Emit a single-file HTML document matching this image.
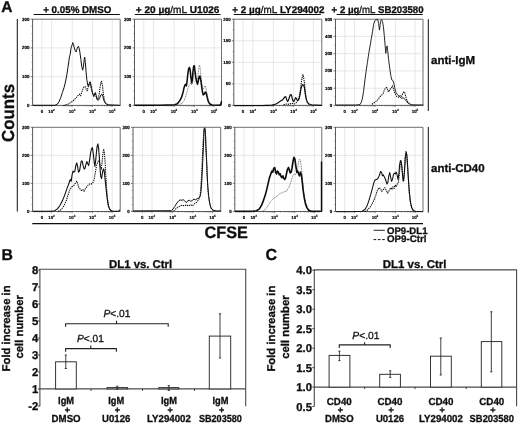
<!DOCTYPE html>
<html><head><meta charset="utf-8"><title>Figure</title>
<style>html,body{margin:0;padding:0;background:#fff;}body{width:520px;height:424px;overflow:hidden;font-family:"Liberation Sans",sans-serif;}svg{display:block;}text{text-rendering:geometricPrecision;}text[font-weight="bold"]:not([font-size="4.4"]){stroke:#111;stroke-width:0.32px;}</style>
</head><body>
<svg width="520" height="424" viewBox="0 0 520 424" font-family="'Liberation Sans', sans-serif">
<defs><filter id="soft" x="0" y="0" width="520" height="424" filterUnits="userSpaceOnUse"><feGaussianBlur stdDeviation="0.33"/></filter></defs>
<rect width="520" height="424" fill="#fff"/>
<g filter="url(#soft)">
<text x="1.2" y="12.4" font-size="15.5" font-weight="bold" fill="#111">A</text>
<text x="1.4" y="260.2" font-size="15.8" font-weight="bold" fill="#111">B</text>
<text x="265.4" y="260.2" font-size="16" font-weight="bold" fill="#111">C</text>
<text x="43.2" y="12.9" font-size="9.8" font-weight="bold" fill="#111" textLength="68.2" lengthAdjust="spacingAndGlyphs">+ 0.05% DMSO</text>
<line x1="33.7" y1="14.5" x2="119.8" y2="14.5" stroke="#111" stroke-width="1.2"/>
<text x="135.8" y="12.9" font-size="9.8" font-weight="bold" fill="#111" textLength="83.6" lengthAdjust="spacingAndGlyphs">+ 20 µg<tspan font-weight='normal'>/mL</tspan> U1026</text>
<line x1="134.8" y1="14.5" x2="220.6" y2="14.5" stroke="#111" stroke-width="1.2"/>
<text x="232.3" y="12.9" font-size="9.8" font-weight="bold" fill="#111" textLength="92.3" lengthAdjust="spacingAndGlyphs">+ 2 µg<tspan font-weight='normal'>/mL</tspan> LY294002</text>
<line x1="233.7" y1="14.5" x2="320.9" y2="14.5" stroke="#111" stroke-width="1.2"/>
<text x="331.6" y="12.9" font-size="9.8" font-weight="bold" fill="#111" textLength="92.0" lengthAdjust="spacingAndGlyphs">+ 2 µg<tspan font-weight='normal'>/mL</tspan> SB203580</text>
<line x1="336.6" y1="14.5" x2="422.8" y2="14.5" stroke="#111" stroke-width="1.2"/>
<line x1="17.3" y1="19.0" x2="17.3" y2="211.5" stroke="#111" stroke-width="1.0"/>
<text transform="translate(13.9,141.9) rotate(-90)" font-size="17.4" font-weight="bold" fill="#111" textLength="58" lengthAdjust="spacingAndGlyphs">Counts</text>
<line x1="428.3" y1="19.2" x2="428.3" y2="111" stroke="#111" stroke-width="1.0"/>
<line x1="428.3" y1="127" x2="428.3" y2="212.6" stroke="#111" stroke-width="1.0"/>
<text x="431" y="64.3" font-size="11.5" font-weight="bold" fill="#111" textLength="44.2" lengthAdjust="spacingAndGlyphs">anti-IgM</text>
<text x="431" y="172.3" font-size="11.4" font-weight="bold" fill="#111" textLength="53.6" lengthAdjust="spacingAndGlyphs">anti-CD40</text>
<line x1="32.3" y1="223.6" x2="423" y2="223.6" stroke="#111" stroke-width="1.3"/>
<text x="204.6" y="238" font-size="16.6" font-weight="bold" fill="#111" textLength="43.3" lengthAdjust="spacingAndGlyphs">CFSE</text>
<line x1="373.6" y1="230.3" x2="384.8" y2="230.3" stroke="#111" stroke-width="0.9"/>
<line x1="373.6" y1="239.6" x2="384.8" y2="239.6" stroke="#111" stroke-width="1.0" stroke-dasharray="2.6 1.7"/>
<text x="387" y="233.6" font-size="9.6" font-weight="bold" fill="#111" textLength="40.5" lengthAdjust="spacingAndGlyphs">OP9-DL1</text>
<text x="387" y="241.8" font-size="9.6" font-weight="bold" fill="#111" textLength="39.5" lengthAdjust="spacingAndGlyphs">OP9-Ctrl</text>
<g>
<line x1="41.9" y1="19.2" x2="41.9" y2="105.4" stroke="#d6d6d6" stroke-width="0.6"/>
<line x1="51.6" y1="19.2" x2="51.6" y2="105.4" stroke="#d6d6d6" stroke-width="0.6"/>
<line x1="72.2" y1="19.2" x2="72.2" y2="105.4" stroke="#d6d6d6" stroke-width="0.6"/>
<line x1="92.5" y1="19.2" x2="92.5" y2="105.4" stroke="#d6d6d6" stroke-width="0.6"/>
<line x1="112.2" y1="19.2" x2="112.2" y2="105.4" stroke="#d6d6d6" stroke-width="0.6"/>
<line x1="32.6" y1="47.9" x2="120.2" y2="47.9" stroke="#d6d6d6" stroke-width="0.6"/>
<line x1="32.6" y1="76.7" x2="120.2" y2="76.7" stroke="#d6d6d6" stroke-width="0.6"/>
<path d="M32.6,19.2 H120.2 V105.4" fill="none" stroke="#6e6e6e" stroke-width="1"/>
<path d="M32.6,18.9 V105.4 H120.2" fill="none" stroke="#5a5a5a" stroke-width="1"/>
<line x1="30.6" y1="19.2" x2="32.6" y2="19.2" stroke="#5a5a5a" stroke-width="0.8"/>
<text x="29.4" y="20.6" font-size="4.4" font-weight="bold" text-anchor="end" fill="#000" stroke="#000" stroke-width="0.18">300</text>
<line x1="30.6" y1="47.9" x2="32.6" y2="47.9" stroke="#5a5a5a" stroke-width="0.8"/>
<text x="29.4" y="49.3" font-size="4.4" font-weight="bold" text-anchor="end" fill="#000" stroke="#000" stroke-width="0.18">200</text>
<line x1="30.6" y1="76.7" x2="32.6" y2="76.7" stroke="#5a5a5a" stroke-width="0.8"/>
<text x="29.4" y="78.1" font-size="4.4" font-weight="bold" text-anchor="end" fill="#000" stroke="#000" stroke-width="0.18">100</text>
<line x1="30.6" y1="105.4" x2="32.6" y2="105.4" stroke="#5a5a5a" stroke-width="0.8"/>
<text x="29.4" y="106.8" font-size="4.4" font-weight="bold" text-anchor="end" fill="#000" stroke="#000" stroke-width="0.18">0</text>
<line x1="41.9" y1="105.4" x2="41.9" y2="107.0" stroke="#5a5a5a" stroke-width="0.7"/>
<text x="41.9" y="112.9" font-size="4.4" font-weight="bold" text-anchor="middle" fill="#000" stroke="#000" stroke-width="0.15">0</text>
<line x1="51.6" y1="105.4" x2="51.6" y2="107.0" stroke="#5a5a5a" stroke-width="0.7"/>
<text x="51.5" y="112.9" font-size="4.4" font-weight="bold" text-anchor="middle" fill="#000" stroke="#000" stroke-width="0.15">10<tspan font-size="3.0" dy="-1.7">2</tspan></text>
<line x1="72.2" y1="105.4" x2="72.2" y2="107.0" stroke="#5a5a5a" stroke-width="0.7"/>
<text x="72.1" y="112.9" font-size="4.4" font-weight="bold" text-anchor="middle" fill="#000" stroke="#000" stroke-width="0.15">10<tspan font-size="3.0" dy="-1.7">3</tspan></text>
<line x1="92.5" y1="105.4" x2="92.5" y2="107.0" stroke="#5a5a5a" stroke-width="0.7"/>
<text x="92.4" y="112.9" font-size="4.4" font-weight="bold" text-anchor="middle" fill="#000" stroke="#000" stroke-width="0.15">10<tspan font-size="3.0" dy="-1.7">4</tspan></text>
<line x1="112.2" y1="105.4" x2="112.2" y2="107.0" stroke="#5a5a5a" stroke-width="0.7"/>
<text x="112.1" y="112.9" font-size="4.4" font-weight="bold" text-anchor="middle" fill="#000" stroke="#000" stroke-width="0.15">10<tspan font-size="3.0" dy="-1.7">5</tspan></text>
<path d="M57.8,105.4v1.1M61.4,105.4v1.1M64.0,105.4v1.1M66.0,105.4v1.1M67.6,105.4v1.1M69.0,105.4v1.1M70.2,105.4v1.1M71.3,105.4v1.1M78.3,105.4v1.1M81.9,105.4v1.1M84.4,105.4v1.1M86.4,105.4v1.1M88.0,105.4v1.1M89.4,105.4v1.1M90.5,105.4v1.1M91.6,105.4v1.1M98.4,105.4v1.1M101.9,105.4v1.1M104.4,105.4v1.1M106.3,105.4v1.1M107.8,105.4v1.1M109.1,105.4v1.1M110.3,105.4v1.1M111.3,105.4v1.1M44.3,105.4v1.1M39.5,105.4v1.1M46.8,105.4v1.1M37.1,105.4v1.1M49.2,105.4v1.1M34.6,105.4v1.1" stroke="#555" stroke-width="0.5" fill="none"/>
<path d="M32.6,98.2h-1.2M32.6,91.0h-1.2M32.6,83.9h-1.2M32.6,69.5h-1.2M32.6,62.3h-1.2M32.6,55.1h-1.2M32.6,40.8h-1.2M32.6,33.6h-1.2M32.6,26.4h-1.2" stroke="#555" stroke-width="0.5" fill="none"/>
<clipPath id="c10"><rect x="32.6" y="18.2" width="88.4" height="88.2"/></clipPath>
<g clip-path="url(#c10)" fill="none" stroke-linejoin="round" stroke-linecap="round">
<path d="M63.3,105.7 L68.2,104.0 L71.5,102.0 L74.0,99.9 L76.5,97.4 L78.1,95.4 L79.3,94.1 L80.6,95.8 L81.4,93.3 L82.6,90.0 L83.5,87.5 L84.7,86.3 L85.7,87.5 L86.4,90.0 L87.2,90.8 L88.0,87.5 L88.8,85.0 L89.7,82.6 L90.5,85.0 L91.3,89.2 L92.6,93.3 L93.8,95.8 L94.9,93.3 L95.9,95.8 L97.1,99.1 L98.2,98.2 L99.2,94.1 L100.0,87.5 L100.9,82.6 L101.5,81.2 L102.4,85.0 L103.2,92.5 L104.2,99.1 L105.3,102.7 L107.8,104.8" stroke="#000" stroke-width="1.05" stroke-dasharray="1.3 0.9" stroke-linecap="butt"/>
<path d="M32.7,105.3 L55.0,105.3 L57.5,104.0 L59.1,101.5 L60.8,97.4 L62.4,92.5 L64.1,87.5 L65.7,80.9 L66.9,74.3 L67.9,67.7 L68.9,61.1 L69.5,56.2 L70.2,54.5 L70.8,49.6 L71.5,46.3 L72.3,44.6 L72.8,42.6 L73.5,44.6 L74.3,47.9 L75.1,50.4 L76.0,52.0 L76.8,49.6 L77.6,47.1 L78.4,46.3 L79.3,48.7 L80.1,53.7 L80.9,59.5 L81.7,66.1 L82.6,70.2 L83.4,66.9 L84.2,59.5 L84.7,57.0 L85.4,62.8 L86.0,71.0 L86.8,79.3 L87.7,85.0 L88.5,86.7 L89.3,83.4 L90.1,81.7 L90.8,84.2 L91.6,88.3 L92.6,93.3 L93.8,96.6 L94.6,94.1 L95.4,92.5 L96.3,95.8 L97.1,99.4 L98.2,100.4 L99.6,98.2 L100.9,94.9 L101.9,94.1 L102.9,96.6 L103.8,100.4 L105.3,103.2 L107.8,104.8 L120.0,105.3" stroke="#111" stroke-width="1.0"/>
</g>
</g>
<g>
<line x1="143.8" y1="19.2" x2="143.8" y2="105.4" stroke="#d6d6d6" stroke-width="0.6"/>
<line x1="153.5" y1="19.2" x2="153.5" y2="105.4" stroke="#d6d6d6" stroke-width="0.6"/>
<line x1="174.1" y1="19.2" x2="174.1" y2="105.4" stroke="#d6d6d6" stroke-width="0.6"/>
<line x1="194.4" y1="19.2" x2="194.4" y2="105.4" stroke="#d6d6d6" stroke-width="0.6"/>
<line x1="214.1" y1="19.2" x2="214.1" y2="105.4" stroke="#d6d6d6" stroke-width="0.6"/>
<line x1="134.5" y1="47.9" x2="221.5" y2="47.9" stroke="#d6d6d6" stroke-width="0.6"/>
<line x1="134.5" y1="76.7" x2="221.5" y2="76.7" stroke="#d6d6d6" stroke-width="0.6"/>
<path d="M134.5,19.2 H221.5 V105.4" fill="none" stroke="#6e6e6e" stroke-width="1"/>
<path d="M134.5,18.9 V105.4 H221.5" fill="none" stroke="#5a5a5a" stroke-width="1"/>
<line x1="132.5" y1="19.2" x2="134.5" y2="19.2" stroke="#5a5a5a" stroke-width="0.8"/>
<text x="131.3" y="20.6" font-size="4.4" font-weight="bold" text-anchor="end" fill="#000" stroke="#000" stroke-width="0.18">300</text>
<line x1="132.5" y1="47.9" x2="134.5" y2="47.9" stroke="#5a5a5a" stroke-width="0.8"/>
<text x="131.3" y="49.3" font-size="4.4" font-weight="bold" text-anchor="end" fill="#000" stroke="#000" stroke-width="0.18">200</text>
<line x1="132.5" y1="76.7" x2="134.5" y2="76.7" stroke="#5a5a5a" stroke-width="0.8"/>
<text x="131.3" y="78.1" font-size="4.4" font-weight="bold" text-anchor="end" fill="#000" stroke="#000" stroke-width="0.18">100</text>
<line x1="132.5" y1="105.4" x2="134.5" y2="105.4" stroke="#5a5a5a" stroke-width="0.8"/>
<text x="131.3" y="106.8" font-size="4.4" font-weight="bold" text-anchor="end" fill="#000" stroke="#000" stroke-width="0.18">0</text>
<line x1="143.8" y1="105.4" x2="143.8" y2="107.0" stroke="#5a5a5a" stroke-width="0.7"/>
<text x="143.8" y="112.9" font-size="4.4" font-weight="bold" text-anchor="middle" fill="#000" stroke="#000" stroke-width="0.15">0</text>
<line x1="153.5" y1="105.4" x2="153.5" y2="107.0" stroke="#5a5a5a" stroke-width="0.7"/>
<text x="153.4" y="112.9" font-size="4.4" font-weight="bold" text-anchor="middle" fill="#000" stroke="#000" stroke-width="0.15">10<tspan font-size="3.0" dy="-1.7">2</tspan></text>
<line x1="174.1" y1="105.4" x2="174.1" y2="107.0" stroke="#5a5a5a" stroke-width="0.7"/>
<text x="174.0" y="112.9" font-size="4.4" font-weight="bold" text-anchor="middle" fill="#000" stroke="#000" stroke-width="0.15">10<tspan font-size="3.0" dy="-1.7">3</tspan></text>
<line x1="194.4" y1="105.4" x2="194.4" y2="107.0" stroke="#5a5a5a" stroke-width="0.7"/>
<text x="194.3" y="112.9" font-size="4.4" font-weight="bold" text-anchor="middle" fill="#000" stroke="#000" stroke-width="0.15">10<tspan font-size="3.0" dy="-1.7">4</tspan></text>
<line x1="214.1" y1="105.4" x2="214.1" y2="107.0" stroke="#5a5a5a" stroke-width="0.7"/>
<text x="214.0" y="112.9" font-size="4.4" font-weight="bold" text-anchor="middle" fill="#000" stroke="#000" stroke-width="0.15">10<tspan font-size="3.0" dy="-1.7">5</tspan></text>
<path d="M159.7,105.4v1.1M163.3,105.4v1.1M165.9,105.4v1.1M167.9,105.4v1.1M169.5,105.4v1.1M170.9,105.4v1.1M172.1,105.4v1.1M173.2,105.4v1.1M180.2,105.4v1.1M183.8,105.4v1.1M186.3,105.4v1.1M188.3,105.4v1.1M189.9,105.4v1.1M191.3,105.4v1.1M192.4,105.4v1.1M193.5,105.4v1.1M200.3,105.4v1.1M203.8,105.4v1.1M206.3,105.4v1.1M208.2,105.4v1.1M209.7,105.4v1.1M211.0,105.4v1.1M212.2,105.4v1.1M213.2,105.4v1.1M146.2,105.4v1.1M141.4,105.4v1.1M148.7,105.4v1.1M139.0,105.4v1.1M151.1,105.4v1.1M136.5,105.4v1.1" stroke="#555" stroke-width="0.5" fill="none"/>
<path d="M134.5,98.2h-1.2M134.5,91.0h-1.2M134.5,83.9h-1.2M134.5,69.5h-1.2M134.5,62.3h-1.2M134.5,55.1h-1.2M134.5,40.8h-1.2M134.5,33.6h-1.2M134.5,26.4h-1.2" stroke="#555" stroke-width="0.5" fill="none"/>
<clipPath id="c11"><rect x="134.5" y="18.2" width="87.8" height="88.2"/></clipPath>
<g clip-path="url(#c11)" fill="none" stroke-linejoin="round" stroke-linecap="round">
<path d="M178.2,105.3 L182.3,103.2 L184.8,99.1 L186.4,94.1 L187.7,89.2 L188.9,85.9 L190.0,84.2 L190.9,82.6 L191.7,85.0 L192.5,83.4 L193.3,76.8 L194.2,70.2 L195.0,72.7 L196.0,79.3 L197.0,82.6 L197.8,77.6 L198.6,69.4 L199.3,65.2 L199.9,66.1 L200.6,72.7 L201.3,80.9 L202.2,87.5 L203.2,89.2 L204.2,86.7 L205.2,85.9 L206.2,89.2 L207.2,94.9 L208.2,99.9 L209.5,103.2 L212.0,104.8" stroke="#444" stroke-width="0.8" stroke-dasharray="0.9 0.8" stroke-linecap="butt"/>
<path d="M134.6,105.3 L160.0,105.3 L174.9,104.8 L177.3,103.7 L179.8,100.7 L181.5,97.4 L182.8,93.3 L183.9,88.3 L184.8,85.5 L185.6,84.2 L186.4,85.9 L186.9,82.6 L187.7,75.1 L188.5,69.4 L189.4,67.4 L190.2,70.2 L190.9,77.6 L191.7,82.6 L192.3,80.1 L193.0,71.0 L193.7,66.1 L194.3,65.7 L195.0,71.0 L195.8,77.6 L196.6,81.7 L197.5,84.2 L198.3,80.9 L199.1,76.8 L199.9,76.0 L200.8,80.1 L201.6,85.9 L202.4,91.6 L203.2,94.9 L204.2,94.1 L205.2,92.1 L206.2,93.3 L207.2,97.4 L208.3,101.5 L209.5,103.7 L212.0,105.0 L219.4,105.3 L220.7,104.3 L221.6,101.5" stroke="#111" stroke-width="1.55"/>
</g>
</g>
<g>
<line x1="243.1" y1="19.2" x2="243.1" y2="105.4" stroke="#d6d6d6" stroke-width="0.6"/>
<line x1="252.8" y1="19.2" x2="252.8" y2="105.4" stroke="#d6d6d6" stroke-width="0.6"/>
<line x1="273.4" y1="19.2" x2="273.4" y2="105.4" stroke="#d6d6d6" stroke-width="0.6"/>
<line x1="293.7" y1="19.2" x2="293.7" y2="105.4" stroke="#d6d6d6" stroke-width="0.6"/>
<line x1="313.4" y1="19.2" x2="313.4" y2="105.4" stroke="#d6d6d6" stroke-width="0.6"/>
<line x1="233.8" y1="40.8" x2="321.8" y2="40.8" stroke="#d6d6d6" stroke-width="0.6"/>
<line x1="233.8" y1="62.3" x2="321.8" y2="62.3" stroke="#d6d6d6" stroke-width="0.6"/>
<line x1="233.8" y1="83.9" x2="321.8" y2="83.9" stroke="#d6d6d6" stroke-width="0.6"/>
<path d="M233.8,19.2 H321.8 V105.4" fill="none" stroke="#6e6e6e" stroke-width="1"/>
<path d="M233.8,18.9 V105.4 H321.8" fill="none" stroke="#5a5a5a" stroke-width="1"/>
<line x1="231.8" y1="19.2" x2="233.8" y2="19.2" stroke="#5a5a5a" stroke-width="0.8"/>
<text x="230.6" y="20.6" font-size="4.4" font-weight="bold" text-anchor="end" fill="#000" stroke="#000" stroke-width="0.18">200</text>
<line x1="231.8" y1="40.8" x2="233.8" y2="40.8" stroke="#5a5a5a" stroke-width="0.8"/>
<text x="230.6" y="42.1" font-size="4.4" font-weight="bold" text-anchor="end" fill="#000" stroke="#000" stroke-width="0.18">150</text>
<line x1="231.8" y1="62.3" x2="233.8" y2="62.3" stroke="#5a5a5a" stroke-width="0.8"/>
<text x="230.6" y="63.7" font-size="4.4" font-weight="bold" text-anchor="end" fill="#000" stroke="#000" stroke-width="0.18">100</text>
<line x1="231.8" y1="83.9" x2="233.8" y2="83.9" stroke="#5a5a5a" stroke-width="0.8"/>
<text x="230.6" y="85.3" font-size="4.4" font-weight="bold" text-anchor="end" fill="#000" stroke="#000" stroke-width="0.18">50</text>
<line x1="231.8" y1="105.4" x2="233.8" y2="105.4" stroke="#5a5a5a" stroke-width="0.8"/>
<text x="230.6" y="106.8" font-size="4.4" font-weight="bold" text-anchor="end" fill="#000" stroke="#000" stroke-width="0.18">0</text>
<line x1="243.1" y1="105.4" x2="243.1" y2="107.0" stroke="#5a5a5a" stroke-width="0.7"/>
<text x="243.1" y="112.9" font-size="4.4" font-weight="bold" text-anchor="middle" fill="#000" stroke="#000" stroke-width="0.15">0</text>
<line x1="252.8" y1="105.4" x2="252.8" y2="107.0" stroke="#5a5a5a" stroke-width="0.7"/>
<text x="252.7" y="112.9" font-size="4.4" font-weight="bold" text-anchor="middle" fill="#000" stroke="#000" stroke-width="0.15">10<tspan font-size="3.0" dy="-1.7">2</tspan></text>
<line x1="273.4" y1="105.4" x2="273.4" y2="107.0" stroke="#5a5a5a" stroke-width="0.7"/>
<text x="273.3" y="112.9" font-size="4.4" font-weight="bold" text-anchor="middle" fill="#000" stroke="#000" stroke-width="0.15">10<tspan font-size="3.0" dy="-1.7">3</tspan></text>
<line x1="293.7" y1="105.4" x2="293.7" y2="107.0" stroke="#5a5a5a" stroke-width="0.7"/>
<text x="293.6" y="112.9" font-size="4.4" font-weight="bold" text-anchor="middle" fill="#000" stroke="#000" stroke-width="0.15">10<tspan font-size="3.0" dy="-1.7">4</tspan></text>
<line x1="313.4" y1="105.4" x2="313.4" y2="107.0" stroke="#5a5a5a" stroke-width="0.7"/>
<text x="313.3" y="112.9" font-size="4.4" font-weight="bold" text-anchor="middle" fill="#000" stroke="#000" stroke-width="0.15">10<tspan font-size="3.0" dy="-1.7">5</tspan></text>
<path d="M259.0,105.4v1.1M262.6,105.4v1.1M265.2,105.4v1.1M267.2,105.4v1.1M268.8,105.4v1.1M270.2,105.4v1.1M271.4,105.4v1.1M272.5,105.4v1.1M279.5,105.4v1.1M283.1,105.4v1.1M285.6,105.4v1.1M287.6,105.4v1.1M289.2,105.4v1.1M290.6,105.4v1.1M291.7,105.4v1.1M292.8,105.4v1.1M299.6,105.4v1.1M303.1,105.4v1.1M305.6,105.4v1.1M307.5,105.4v1.1M309.0,105.4v1.1M310.3,105.4v1.1M311.5,105.4v1.1M312.5,105.4v1.1M245.5,105.4v1.1M240.7,105.4v1.1M248.0,105.4v1.1M238.3,105.4v1.1M250.4,105.4v1.1M235.8,105.4v1.1" stroke="#555" stroke-width="0.5" fill="none"/>
<path d="M233.8,94.6h-1.2M233.8,73.1h-1.2M233.8,51.5h-1.2M233.8,30.0h-1.2" stroke="#555" stroke-width="0.5" fill="none"/>
<clipPath id="c12"><rect x="233.8" y="18.2" width="88.8" height="88.2"/></clipPath>
<g clip-path="url(#c12)" fill="none" stroke-linejoin="round" stroke-linecap="round">
<path d="M283.5,104.8 L286.8,104.0 L289.2,104.3 L291.7,103.2 L293.4,104.0 L295.0,103.7 L297.5,101.5 L299.1,97.4 L300.3,90.8 L301.3,82.6 L302.1,77.6 L302.9,74.6 L303.7,77.6 L304.6,84.2 L305.4,92.5 L306.2,99.1 L307.4,102.7 L309.0,104.3" stroke="#000" stroke-width="1.05" stroke-dasharray="1.3 0.9" stroke-linecap="butt"/>
<path d="M233.9,105.7 L262.0,105.7 L271.9,105.2 L276.0,104.0 L278.5,102.4 L281.0,100.7 L282.6,99.9 L283.9,98.2 L285.1,96.6 L285.9,97.1 L286.8,99.9 L287.6,101.5 L288.4,100.4 L289.6,96.6 L290.5,94.6 L291.4,94.9 L292.2,98.2 L293.0,101.0 L293.8,101.5 L294.7,99.9 L295.5,97.7 L296.3,98.2 L297.1,99.9 L298.0,100.4 L299.0,99.1 L300.0,94.9 L300.9,89.2 L301.8,85.9 L302.6,84.7 L303.6,85.0 L304.4,87.5 L305.2,93.3 L306.2,99.1 L307.4,102.4 L309.0,104.0 L311.5,104.8 L321.7,105.3" stroke="#111" stroke-width="1.2"/>
</g>
</g>
<g>
<line x1="344.8" y1="19.2" x2="344.8" y2="105.4" stroke="#d6d6d6" stroke-width="0.6"/>
<line x1="354.5" y1="19.2" x2="354.5" y2="105.4" stroke="#d6d6d6" stroke-width="0.6"/>
<line x1="375.1" y1="19.2" x2="375.1" y2="105.4" stroke="#d6d6d6" stroke-width="0.6"/>
<line x1="395.4" y1="19.2" x2="395.4" y2="105.4" stroke="#d6d6d6" stroke-width="0.6"/>
<line x1="415.1" y1="19.2" x2="415.1" y2="105.4" stroke="#d6d6d6" stroke-width="0.6"/>
<line x1="335.5" y1="36.4" x2="423.0" y2="36.4" stroke="#d6d6d6" stroke-width="0.6"/>
<line x1="335.5" y1="53.7" x2="423.0" y2="53.7" stroke="#d6d6d6" stroke-width="0.6"/>
<line x1="335.5" y1="70.9" x2="423.0" y2="70.9" stroke="#d6d6d6" stroke-width="0.6"/>
<line x1="335.5" y1="88.2" x2="423.0" y2="88.2" stroke="#d6d6d6" stroke-width="0.6"/>
<path d="M335.5,19.2 H423.0 V105.4" fill="none" stroke="#6e6e6e" stroke-width="1"/>
<path d="M335.5,18.9 V105.4 H423.0" fill="none" stroke="#5a5a5a" stroke-width="1"/>
<line x1="333.5" y1="19.2" x2="335.5" y2="19.2" stroke="#5a5a5a" stroke-width="0.8"/>
<text x="332.3" y="20.6" font-size="4.4" font-weight="bold" text-anchor="end" fill="#000" stroke="#000" stroke-width="0.18">500</text>
<line x1="333.5" y1="36.4" x2="335.5" y2="36.4" stroke="#5a5a5a" stroke-width="0.8"/>
<text x="332.3" y="37.8" font-size="4.4" font-weight="bold" text-anchor="end" fill="#000" stroke="#000" stroke-width="0.18">400</text>
<line x1="333.5" y1="53.7" x2="335.5" y2="53.7" stroke="#5a5a5a" stroke-width="0.8"/>
<text x="332.3" y="55.1" font-size="4.4" font-weight="bold" text-anchor="end" fill="#000" stroke="#000" stroke-width="0.18">300</text>
<line x1="333.5" y1="70.9" x2="335.5" y2="70.9" stroke="#5a5a5a" stroke-width="0.8"/>
<text x="332.3" y="72.3" font-size="4.4" font-weight="bold" text-anchor="end" fill="#000" stroke="#000" stroke-width="0.18">200</text>
<line x1="333.5" y1="88.2" x2="335.5" y2="88.2" stroke="#5a5a5a" stroke-width="0.8"/>
<text x="332.3" y="89.6" font-size="4.4" font-weight="bold" text-anchor="end" fill="#000" stroke="#000" stroke-width="0.18">100</text>
<line x1="333.5" y1="105.4" x2="335.5" y2="105.4" stroke="#5a5a5a" stroke-width="0.8"/>
<text x="332.3" y="106.8" font-size="4.4" font-weight="bold" text-anchor="end" fill="#000" stroke="#000" stroke-width="0.18">0</text>
<line x1="344.8" y1="105.4" x2="344.8" y2="107.0" stroke="#5a5a5a" stroke-width="0.7"/>
<text x="344.8" y="112.9" font-size="4.4" font-weight="bold" text-anchor="middle" fill="#000" stroke="#000" stroke-width="0.15">0</text>
<line x1="354.5" y1="105.4" x2="354.5" y2="107.0" stroke="#5a5a5a" stroke-width="0.7"/>
<text x="354.4" y="112.9" font-size="4.4" font-weight="bold" text-anchor="middle" fill="#000" stroke="#000" stroke-width="0.15">10<tspan font-size="3.0" dy="-1.7">2</tspan></text>
<line x1="375.1" y1="105.4" x2="375.1" y2="107.0" stroke="#5a5a5a" stroke-width="0.7"/>
<text x="375.0" y="112.9" font-size="4.4" font-weight="bold" text-anchor="middle" fill="#000" stroke="#000" stroke-width="0.15">10<tspan font-size="3.0" dy="-1.7">3</tspan></text>
<line x1="395.4" y1="105.4" x2="395.4" y2="107.0" stroke="#5a5a5a" stroke-width="0.7"/>
<text x="395.3" y="112.9" font-size="4.4" font-weight="bold" text-anchor="middle" fill="#000" stroke="#000" stroke-width="0.15">10<tspan font-size="3.0" dy="-1.7">4</tspan></text>
<line x1="415.1" y1="105.4" x2="415.1" y2="107.0" stroke="#5a5a5a" stroke-width="0.7"/>
<text x="415.0" y="112.9" font-size="4.4" font-weight="bold" text-anchor="middle" fill="#000" stroke="#000" stroke-width="0.15">10<tspan font-size="3.0" dy="-1.7">5</tspan></text>
<path d="M360.7,105.4v1.1M364.3,105.4v1.1M366.9,105.4v1.1M368.9,105.4v1.1M370.5,105.4v1.1M371.9,105.4v1.1M373.1,105.4v1.1M374.2,105.4v1.1M381.2,105.4v1.1M384.8,105.4v1.1M387.3,105.4v1.1M389.3,105.4v1.1M390.9,105.4v1.1M392.3,105.4v1.1M393.4,105.4v1.1M394.5,105.4v1.1M401.3,105.4v1.1M404.8,105.4v1.1M407.3,105.4v1.1M409.2,105.4v1.1M410.7,105.4v1.1M412.0,105.4v1.1M413.2,105.4v1.1M414.2,105.4v1.1M347.2,105.4v1.1M342.4,105.4v1.1M349.7,105.4v1.1M339.9,105.4v1.1M352.1,105.4v1.1M337.5,105.4v1.1" stroke="#555" stroke-width="0.5" fill="none"/>
<path d="M335.5,96.8h-1.2M335.5,79.5h-1.2M335.5,62.3h-1.2M335.5,45.1h-1.2M335.5,27.8h-1.2" stroke="#555" stroke-width="0.5" fill="none"/>
<clipPath id="c13"><rect x="335.5" y="18.2" width="88.3" height="88.2"/></clipPath>
<g clip-path="url(#c13)" fill="none" stroke-linejoin="round" stroke-linecap="round">
<path d="M371.9,104.2 L375.2,102.0 L377.8,99.8 L379.9,96.8 L381.7,95.1 L383.4,92.9 L384.5,89.6 L385.6,87.9 L386.9,87.5 L387.7,90.7 L388.8,91.8 L389.9,89.2 L391.2,88.6 L392.5,85.7 L393.4,88.6 L394.2,91.8 L395.5,94.4 L396.8,96.6 L398.6,97.2 L400.1,95.7 L401.6,96.6 L402.9,92.9 L404.0,91.8 L405.1,93.5 L405.9,97.2 L407.2,100.9 L409.4,103.5" stroke="#000" stroke-width="1.05" stroke-dasharray="1.3 0.9" stroke-linecap="butt"/>
<path d="M335.5,105.0 L355.7,105.0 L360.0,104.6 L361.1,102.6 L362.2,99.4 L363.5,91.8 L364.8,81.0 L366.1,71.2 L367.4,62.6 L368.7,53.9 L370.0,46.3 L371.3,38.7 L372.6,31.2 L373.6,24.7 L374.7,20.8 L376.0,19.7 L377.8,19.7 L378.6,23.6 L379.5,30.1 L380.1,24.7 L380.8,20.8 L381.7,19.7 L382.5,21.4 L383.4,26.8 L384.3,35.5 L385.1,45.2 L385.8,53.3 L386.4,48.5 L387.1,45.9 L387.7,50.7 L388.6,59.3 L389.7,68.0 L390.8,75.6 L391.8,79.9 L392.9,80.5 L393.8,83.1 L394.7,87.5 L395.7,91.8 L397.3,94.4 L399.0,96.1 L401.2,98.3 L403.3,97.9 L405.1,99.4 L406.6,101.6 L408.7,103.7 L412.0,104.8 L423.2,105.0" stroke="#111" stroke-width="0.9"/>
</g>
</g>
<g>
<line x1="41.9" y1="127.3" x2="41.9" y2="211.5" stroke="#d6d6d6" stroke-width="0.6"/>
<line x1="51.6" y1="127.3" x2="51.6" y2="211.5" stroke="#d6d6d6" stroke-width="0.6"/>
<line x1="72.2" y1="127.3" x2="72.2" y2="211.5" stroke="#d6d6d6" stroke-width="0.6"/>
<line x1="92.5" y1="127.3" x2="92.5" y2="211.5" stroke="#d6d6d6" stroke-width="0.6"/>
<line x1="112.2" y1="127.3" x2="112.2" y2="211.5" stroke="#d6d6d6" stroke-width="0.6"/>
<line x1="32.6" y1="155.4" x2="120.2" y2="155.4" stroke="#d6d6d6" stroke-width="0.6"/>
<line x1="32.6" y1="183.4" x2="120.2" y2="183.4" stroke="#d6d6d6" stroke-width="0.6"/>
<path d="M32.6,127.3 H120.2 V211.5" fill="none" stroke="#6e6e6e" stroke-width="1"/>
<path d="M32.6,127.0 V211.5 H120.2" fill="none" stroke="#5a5a5a" stroke-width="1"/>
<line x1="30.6" y1="127.3" x2="32.6" y2="127.3" stroke="#5a5a5a" stroke-width="0.8"/>
<text x="29.4" y="128.7" font-size="4.4" font-weight="bold" text-anchor="end" fill="#000" stroke="#000" stroke-width="0.18">300</text>
<line x1="30.6" y1="155.4" x2="32.6" y2="155.4" stroke="#5a5a5a" stroke-width="0.8"/>
<text x="29.4" y="156.8" font-size="4.4" font-weight="bold" text-anchor="end" fill="#000" stroke="#000" stroke-width="0.18">200</text>
<line x1="30.6" y1="183.4" x2="32.6" y2="183.4" stroke="#5a5a5a" stroke-width="0.8"/>
<text x="29.4" y="184.8" font-size="4.4" font-weight="bold" text-anchor="end" fill="#000" stroke="#000" stroke-width="0.18">100</text>
<line x1="30.6" y1="211.5" x2="32.6" y2="211.5" stroke="#5a5a5a" stroke-width="0.8"/>
<text x="29.4" y="212.9" font-size="4.4" font-weight="bold" text-anchor="end" fill="#000" stroke="#000" stroke-width="0.18">0</text>
<line x1="41.9" y1="211.5" x2="41.9" y2="213.1" stroke="#5a5a5a" stroke-width="0.7"/>
<text x="41.9" y="219.0" font-size="4.4" font-weight="bold" text-anchor="middle" fill="#000" stroke="#000" stroke-width="0.15">0</text>
<line x1="51.6" y1="211.5" x2="51.6" y2="213.1" stroke="#5a5a5a" stroke-width="0.7"/>
<text x="51.5" y="219.0" font-size="4.4" font-weight="bold" text-anchor="middle" fill="#000" stroke="#000" stroke-width="0.15">10<tspan font-size="3.0" dy="-1.7">2</tspan></text>
<line x1="72.2" y1="211.5" x2="72.2" y2="213.1" stroke="#5a5a5a" stroke-width="0.7"/>
<text x="72.1" y="219.0" font-size="4.4" font-weight="bold" text-anchor="middle" fill="#000" stroke="#000" stroke-width="0.15">10<tspan font-size="3.0" dy="-1.7">3</tspan></text>
<line x1="92.5" y1="211.5" x2="92.5" y2="213.1" stroke="#5a5a5a" stroke-width="0.7"/>
<text x="92.4" y="219.0" font-size="4.4" font-weight="bold" text-anchor="middle" fill="#000" stroke="#000" stroke-width="0.15">10<tspan font-size="3.0" dy="-1.7">4</tspan></text>
<line x1="112.2" y1="211.5" x2="112.2" y2="213.1" stroke="#5a5a5a" stroke-width="0.7"/>
<text x="112.1" y="219.0" font-size="4.4" font-weight="bold" text-anchor="middle" fill="#000" stroke="#000" stroke-width="0.15">10<tspan font-size="3.0" dy="-1.7">5</tspan></text>
<path d="M57.8,211.5v1.1M61.4,211.5v1.1M64.0,211.5v1.1M66.0,211.5v1.1M67.6,211.5v1.1M69.0,211.5v1.1M70.2,211.5v1.1M71.3,211.5v1.1M78.3,211.5v1.1M81.9,211.5v1.1M84.4,211.5v1.1M86.4,211.5v1.1M88.0,211.5v1.1M89.4,211.5v1.1M90.5,211.5v1.1M91.6,211.5v1.1M98.4,211.5v1.1M101.9,211.5v1.1M104.4,211.5v1.1M106.3,211.5v1.1M107.8,211.5v1.1M109.1,211.5v1.1M110.3,211.5v1.1M111.3,211.5v1.1M44.3,211.5v1.1M39.5,211.5v1.1M46.8,211.5v1.1M37.1,211.5v1.1M49.2,211.5v1.1M34.6,211.5v1.1" stroke="#555" stroke-width="0.5" fill="none"/>
<path d="M32.6,204.5h-1.2M32.6,197.5h-1.2M32.6,190.4h-1.2M32.6,176.4h-1.2M32.6,169.4h-1.2M32.6,162.4h-1.2M32.6,148.3h-1.2M32.6,141.3h-1.2M32.6,134.3h-1.2" stroke="#555" stroke-width="0.5" fill="none"/>
<clipPath id="c20"><rect x="32.6" y="126.3" width="88.4" height="86.2"/></clipPath>
<g clip-path="url(#c20)" fill="none" stroke-linejoin="round" stroke-linecap="round">
<path d="M58.3,211.3 L61.0,209.8 L63.8,206.1 L66.2,200.6 L68.0,195.1 L69.9,189.6 L71.7,186.8 L73.6,185.9 L75.4,183.1 L76.7,181.3 L77.6,183.1 L78.5,186.8 L79.8,188.6 L81.3,190.5 L82.8,189.6 L84.1,191.4 L85.4,188.6 L86.8,186.8 L88.3,185.0 L89.6,184.0 L90.9,184.4 L92.4,183.1 L93.8,181.3 L94.9,174.8 L96.0,168.4 L97.1,163.8 L98.3,161.0 L99.4,161.9 L100.5,167.5 L101.4,169.3 L102.1,161.9 L102.9,153.7 L103.6,149.0 L104.3,151.8 L105.1,161.9 L105.8,174.8 L106.5,187.7 L107.5,198.8 L108.6,206.1 L109.9,209.8 L111.7,211.1" stroke="#000" stroke-width="1.05" stroke-dasharray="1.3 0.9" stroke-linecap="butt"/>
<path d="M32.7,211.3 L50.0,211.3 L54.6,210.7 L57.4,208.9 L60.1,205.2 L62.5,200.6 L64.7,195.1 L66.6,189.6 L68.0,185.9 L69.3,182.2 L70.3,179.4 L71.2,181.3 L72.1,174.8 L73.0,171.1 L73.9,172.1 L74.9,171.1 L75.8,165.6 L76.7,162.9 L77.6,166.5 L78.5,172.1 L79.5,171.1 L80.4,165.6 L81.3,161.0 L82.2,161.0 L83.1,165.6 L84.1,168.9 L85.0,168.4 L85.9,164.7 L86.8,161.6 L87.8,163.8 L88.7,165.6 L89.6,160.1 L90.5,153.7 L91.4,149.0 L92.4,147.6 L93.3,153.7 L94.2,161.9 L94.9,166.5 L95.7,160.1 L96.4,152.7 L97.1,146.3 L97.9,143.9 L98.6,148.1 L99.4,158.3 L100.1,169.3 L100.8,176.7 L101.6,178.5 L102.3,173.9 L103.0,170.2 L103.8,168.9 L104.5,173.0 L105.2,180.4 L106.2,189.6 L107.1,197.9 L108.2,205.2 L109.5,208.9 L111.1,210.7 L113.5,211.3 L118.5,211.3 L119.6,210.2" stroke="#111" stroke-width="1.1"/>
</g>
</g>
<g>
<line x1="142.3" y1="127.3" x2="142.3" y2="211.5" stroke="#d6d6d6" stroke-width="0.6"/>
<line x1="152.0" y1="127.3" x2="152.0" y2="211.5" stroke="#d6d6d6" stroke-width="0.6"/>
<line x1="172.6" y1="127.3" x2="172.6" y2="211.5" stroke="#d6d6d6" stroke-width="0.6"/>
<line x1="192.9" y1="127.3" x2="192.9" y2="211.5" stroke="#d6d6d6" stroke-width="0.6"/>
<line x1="212.6" y1="127.3" x2="212.6" y2="211.5" stroke="#d6d6d6" stroke-width="0.6"/>
<line x1="133.0" y1="155.4" x2="220.7" y2="155.4" stroke="#d6d6d6" stroke-width="0.6"/>
<line x1="133.0" y1="183.4" x2="220.7" y2="183.4" stroke="#d6d6d6" stroke-width="0.6"/>
<path d="M133.0,127.3 H220.7 V211.5" fill="none" stroke="#6e6e6e" stroke-width="1"/>
<path d="M133.0,127.0 V211.5 H220.7" fill="none" stroke="#5a5a5a" stroke-width="1"/>
<line x1="131.0" y1="127.3" x2="133.0" y2="127.3" stroke="#5a5a5a" stroke-width="0.8"/>
<text x="129.8" y="128.7" font-size="4.4" font-weight="bold" text-anchor="end" fill="#000" stroke="#000" stroke-width="0.18">300</text>
<line x1="131.0" y1="155.4" x2="133.0" y2="155.4" stroke="#5a5a5a" stroke-width="0.8"/>
<text x="129.8" y="156.8" font-size="4.4" font-weight="bold" text-anchor="end" fill="#000" stroke="#000" stroke-width="0.18">200</text>
<line x1="131.0" y1="183.4" x2="133.0" y2="183.4" stroke="#5a5a5a" stroke-width="0.8"/>
<text x="129.8" y="184.8" font-size="4.4" font-weight="bold" text-anchor="end" fill="#000" stroke="#000" stroke-width="0.18">100</text>
<line x1="131.0" y1="211.5" x2="133.0" y2="211.5" stroke="#5a5a5a" stroke-width="0.8"/>
<text x="129.8" y="212.9" font-size="4.4" font-weight="bold" text-anchor="end" fill="#000" stroke="#000" stroke-width="0.18">0</text>
<line x1="142.3" y1="211.5" x2="142.3" y2="213.1" stroke="#5a5a5a" stroke-width="0.7"/>
<text x="142.3" y="219.0" font-size="4.4" font-weight="bold" text-anchor="middle" fill="#000" stroke="#000" stroke-width="0.15">0</text>
<line x1="152.0" y1="211.5" x2="152.0" y2="213.1" stroke="#5a5a5a" stroke-width="0.7"/>
<text x="151.9" y="219.0" font-size="4.4" font-weight="bold" text-anchor="middle" fill="#000" stroke="#000" stroke-width="0.15">10<tspan font-size="3.0" dy="-1.7">2</tspan></text>
<line x1="172.6" y1="211.5" x2="172.6" y2="213.1" stroke="#5a5a5a" stroke-width="0.7"/>
<text x="172.5" y="219.0" font-size="4.4" font-weight="bold" text-anchor="middle" fill="#000" stroke="#000" stroke-width="0.15">10<tspan font-size="3.0" dy="-1.7">3</tspan></text>
<line x1="192.9" y1="211.5" x2="192.9" y2="213.1" stroke="#5a5a5a" stroke-width="0.7"/>
<text x="192.8" y="219.0" font-size="4.4" font-weight="bold" text-anchor="middle" fill="#000" stroke="#000" stroke-width="0.15">10<tspan font-size="3.0" dy="-1.7">4</tspan></text>
<line x1="212.6" y1="211.5" x2="212.6" y2="213.1" stroke="#5a5a5a" stroke-width="0.7"/>
<text x="212.5" y="219.0" font-size="4.4" font-weight="bold" text-anchor="middle" fill="#000" stroke="#000" stroke-width="0.15">10<tspan font-size="3.0" dy="-1.7">5</tspan></text>
<path d="M158.2,211.5v1.1M161.8,211.5v1.1M164.4,211.5v1.1M166.4,211.5v1.1M168.0,211.5v1.1M169.4,211.5v1.1M170.6,211.5v1.1M171.7,211.5v1.1M178.7,211.5v1.1M182.3,211.5v1.1M184.8,211.5v1.1M186.8,211.5v1.1M188.4,211.5v1.1M189.8,211.5v1.1M190.9,211.5v1.1M192.0,211.5v1.1M198.8,211.5v1.1M202.3,211.5v1.1M204.8,211.5v1.1M206.7,211.5v1.1M208.2,211.5v1.1M209.5,211.5v1.1M210.7,211.5v1.1M211.7,211.5v1.1M144.7,211.5v1.1M139.9,211.5v1.1M147.2,211.5v1.1M137.5,211.5v1.1M149.6,211.5v1.1M135.0,211.5v1.1" stroke="#555" stroke-width="0.5" fill="none"/>
<path d="M133.0,204.5h-1.2M133.0,197.5h-1.2M133.0,190.4h-1.2M133.0,176.4h-1.2M133.0,169.4h-1.2M133.0,162.4h-1.2M133.0,148.3h-1.2M133.0,141.3h-1.2M133.0,134.3h-1.2" stroke="#555" stroke-width="0.5" fill="none"/>
<clipPath id="c21"><rect x="133.0" y="126.3" width="88.5" height="86.2"/></clipPath>
<g clip-path="url(#c21)" fill="none" stroke-linejoin="round" stroke-linecap="round">
<path d="M173.6,210.9 L175.7,209.0 L177.9,207.3 L180.0,206.0 L182.1,205.2 L184.3,205.8 L186.4,204.8 L188.5,206.0 L190.6,204.8 L192.3,205.8 L194.0,204.3 L195.7,203.1 L197.4,201.6 L199.1,198.8 L200.2,195.2 L200.8,187.8 L201.5,177.1 L202.1,164.4 L202.7,149.5 L203.4,137.8 L203.8,130.4 L204.4,128.3 L205.1,130.0 L205.5,136.8 L205.9,147.4 L206.6,162.3 L207.2,176.7 L207.8,187.8 L208.7,197.3 L209.8,204.3 L211.0,208.2 L212.9,210.3" stroke="#000" stroke-width="1.05" stroke-dasharray="1.3 0.9" stroke-linecap="butt"/>
<path d="M133.0,210.9 L171.5,210.7 L173.0,209.0 L174.7,206.5 L176.8,203.1 L178.9,200.7 L180.0,199.9 L181.7,200.3 L183.2,199.7 L184.7,200.9 L186.4,202.6 L187.7,200.9 L189.4,200.1 L190.6,201.4 L192.3,200.5 L194.0,199.0 L195.3,199.9 L197.0,198.8 L198.7,198.2 L200.0,196.5 L200.8,193.1 L201.5,185.6 L202.1,175.0 L202.7,162.3 L203.4,147.4 L203.8,136.8 L204.2,129.3 L204.7,127.8 L205.1,128.7 L205.5,134.6 L205.9,145.3 L206.6,160.1 L207.2,175.0 L207.8,186.7 L208.7,196.3 L209.8,203.7 L211.0,208.0 L212.9,210.1 L216.1,210.9 L220.8,210.9" stroke="#111" stroke-width="1.0"/>
</g>
</g>
<g>
<line x1="244.1" y1="127.3" x2="244.1" y2="211.5" stroke="#d6d6d6" stroke-width="0.6"/>
<line x1="253.8" y1="127.3" x2="253.8" y2="211.5" stroke="#d6d6d6" stroke-width="0.6"/>
<line x1="274.4" y1="127.3" x2="274.4" y2="211.5" stroke="#d6d6d6" stroke-width="0.6"/>
<line x1="294.7" y1="127.3" x2="294.7" y2="211.5" stroke="#d6d6d6" stroke-width="0.6"/>
<line x1="314.4" y1="127.3" x2="314.4" y2="211.5" stroke="#d6d6d6" stroke-width="0.6"/>
<line x1="234.8" y1="155.4" x2="321.8" y2="155.4" stroke="#d6d6d6" stroke-width="0.6"/>
<line x1="234.8" y1="183.4" x2="321.8" y2="183.4" stroke="#d6d6d6" stroke-width="0.6"/>
<path d="M234.8,127.3 H321.8 V211.5" fill="none" stroke="#6e6e6e" stroke-width="1"/>
<path d="M234.8,127.0 V211.5 H321.8" fill="none" stroke="#5a5a5a" stroke-width="1"/>
<line x1="232.8" y1="127.3" x2="234.8" y2="127.3" stroke="#5a5a5a" stroke-width="0.8"/>
<text x="231.6" y="128.7" font-size="4.4" font-weight="bold" text-anchor="end" fill="#000" stroke="#000" stroke-width="0.18">300</text>
<line x1="232.8" y1="155.4" x2="234.8" y2="155.4" stroke="#5a5a5a" stroke-width="0.8"/>
<text x="231.6" y="156.8" font-size="4.4" font-weight="bold" text-anchor="end" fill="#000" stroke="#000" stroke-width="0.18">200</text>
<line x1="232.8" y1="183.4" x2="234.8" y2="183.4" stroke="#5a5a5a" stroke-width="0.8"/>
<text x="231.6" y="184.8" font-size="4.4" font-weight="bold" text-anchor="end" fill="#000" stroke="#000" stroke-width="0.18">100</text>
<line x1="232.8" y1="211.5" x2="234.8" y2="211.5" stroke="#5a5a5a" stroke-width="0.8"/>
<text x="231.6" y="212.9" font-size="4.4" font-weight="bold" text-anchor="end" fill="#000" stroke="#000" stroke-width="0.18">0</text>
<line x1="244.1" y1="211.5" x2="244.1" y2="213.1" stroke="#5a5a5a" stroke-width="0.7"/>
<text x="244.1" y="219.0" font-size="4.4" font-weight="bold" text-anchor="middle" fill="#000" stroke="#000" stroke-width="0.15">0</text>
<line x1="253.8" y1="211.5" x2="253.8" y2="213.1" stroke="#5a5a5a" stroke-width="0.7"/>
<text x="253.7" y="219.0" font-size="4.4" font-weight="bold" text-anchor="middle" fill="#000" stroke="#000" stroke-width="0.15">10<tspan font-size="3.0" dy="-1.7">2</tspan></text>
<line x1="274.4" y1="211.5" x2="274.4" y2="213.1" stroke="#5a5a5a" stroke-width="0.7"/>
<text x="274.3" y="219.0" font-size="4.4" font-weight="bold" text-anchor="middle" fill="#000" stroke="#000" stroke-width="0.15">10<tspan font-size="3.0" dy="-1.7">3</tspan></text>
<line x1="294.7" y1="211.5" x2="294.7" y2="213.1" stroke="#5a5a5a" stroke-width="0.7"/>
<text x="294.6" y="219.0" font-size="4.4" font-weight="bold" text-anchor="middle" fill="#000" stroke="#000" stroke-width="0.15">10<tspan font-size="3.0" dy="-1.7">4</tspan></text>
<line x1="314.4" y1="211.5" x2="314.4" y2="213.1" stroke="#5a5a5a" stroke-width="0.7"/>
<text x="314.3" y="219.0" font-size="4.4" font-weight="bold" text-anchor="middle" fill="#000" stroke="#000" stroke-width="0.15">10<tspan font-size="3.0" dy="-1.7">5</tspan></text>
<path d="M260.0,211.5v1.1M263.6,211.5v1.1M266.2,211.5v1.1M268.2,211.5v1.1M269.8,211.5v1.1M271.2,211.5v1.1M272.4,211.5v1.1M273.5,211.5v1.1M280.5,211.5v1.1M284.1,211.5v1.1M286.6,211.5v1.1M288.6,211.5v1.1M290.2,211.5v1.1M291.6,211.5v1.1M292.7,211.5v1.1M293.8,211.5v1.1M300.6,211.5v1.1M304.1,211.5v1.1M306.6,211.5v1.1M308.5,211.5v1.1M310.0,211.5v1.1M311.3,211.5v1.1M312.5,211.5v1.1M313.5,211.5v1.1M246.5,211.5v1.1M241.7,211.5v1.1M249.0,211.5v1.1M239.3,211.5v1.1M251.4,211.5v1.1M236.8,211.5v1.1" stroke="#555" stroke-width="0.5" fill="none"/>
<path d="M234.8,204.5h-1.2M234.8,197.5h-1.2M234.8,190.4h-1.2M234.8,176.4h-1.2M234.8,169.4h-1.2M234.8,162.4h-1.2M234.8,148.3h-1.2M234.8,141.3h-1.2M234.8,134.3h-1.2" stroke="#555" stroke-width="0.5" fill="none"/>
<clipPath id="c22"><rect x="234.8" y="126.3" width="87.8" height="86.2"/></clipPath>
<g clip-path="url(#c22)" fill="none" stroke-linejoin="round" stroke-linecap="round">
<path d="M262.1,211.3 L264.9,209.8 L267.7,206.1 L270.0,202.5 L272.3,199.7 L274.1,197.9 L275.9,196.9 L277.8,195.5 L279.6,194.2 L281.5,192.3 L282.9,193.2 L284.4,191.4 L285.9,191.8 L287.4,189.6 L288.8,187.7 L290.3,184.0 L291.6,179.4 L292.9,175.8 L294.0,173.9 L295.3,174.8 L296.6,173.0 L297.7,167.5 L298.6,161.9 L299.5,159.2 L300.4,160.1 L301.4,167.5 L302.1,176.7 L302.8,185.0 L303.7,193.2 L304.9,200.6 L306.1,205.8 L307.8,209.5 L310.0,210.9" stroke="#444" stroke-width="0.8" stroke-dasharray="0.9 0.8" stroke-linecap="butt"/>
<path d="M235.1,211.3 L252.0,211.3 L256.6,210.7 L259.4,208.9 L261.6,205.2 L263.4,200.6 L265.3,195.1 L266.7,189.6 L268.2,183.1 L269.5,177.6 L270.8,173.9 L271.9,171.1 L272.8,172.1 L273.7,168.4 L274.7,167.5 L275.6,172.1 L276.5,173.9 L277.4,171.1 L278.3,172.1 L279.3,174.8 L280.2,173.9 L281.1,176.7 L282.0,177.6 L282.9,175.8 L283.9,178.5 L284.8,179.4 L285.7,177.6 L286.6,173.0 L287.5,169.3 L288.5,167.5 L289.4,170.2 L290.3,173.0 L291.2,172.1 L292.1,167.5 L293.1,161.0 L294.0,157.3 L294.9,159.2 L295.8,165.6 L296.8,172.1 L297.7,171.1 L298.6,173.9 L299.5,175.8 L300.4,172.1 L301.4,174.8 L302.3,182.2 L303.2,190.5 L304.3,197.9 L305.4,203.4 L306.9,207.6 L308.7,210.2 L311.3,211.3 L320.1,211.3" stroke="#111" stroke-width="1.65"/>
<line x1="321.6" y1="162.0" x2="321.6" y2="211.5" stroke="#111" stroke-width="1.6"/>
</g>
</g>
<g>
<line x1="344.8" y1="127.3" x2="344.8" y2="211.5" stroke="#d6d6d6" stroke-width="0.6"/>
<line x1="354.5" y1="127.3" x2="354.5" y2="211.5" stroke="#d6d6d6" stroke-width="0.6"/>
<line x1="375.1" y1="127.3" x2="375.1" y2="211.5" stroke="#d6d6d6" stroke-width="0.6"/>
<line x1="395.4" y1="127.3" x2="395.4" y2="211.5" stroke="#d6d6d6" stroke-width="0.6"/>
<line x1="415.1" y1="127.3" x2="415.1" y2="211.5" stroke="#d6d6d6" stroke-width="0.6"/>
<line x1="335.5" y1="155.4" x2="423.0" y2="155.4" stroke="#d6d6d6" stroke-width="0.6"/>
<line x1="335.5" y1="183.4" x2="423.0" y2="183.4" stroke="#d6d6d6" stroke-width="0.6"/>
<path d="M335.5,127.3 H423.0 V211.5" fill="none" stroke="#6e6e6e" stroke-width="1"/>
<path d="M335.5,127.0 V211.5 H423.0" fill="none" stroke="#5a5a5a" stroke-width="1"/>
<line x1="333.5" y1="127.3" x2="335.5" y2="127.3" stroke="#5a5a5a" stroke-width="0.8"/>
<text x="332.3" y="128.7" font-size="4.4" font-weight="bold" text-anchor="end" fill="#000" stroke="#000" stroke-width="0.18">300</text>
<line x1="333.5" y1="155.4" x2="335.5" y2="155.4" stroke="#5a5a5a" stroke-width="0.8"/>
<text x="332.3" y="156.8" font-size="4.4" font-weight="bold" text-anchor="end" fill="#000" stroke="#000" stroke-width="0.18">200</text>
<line x1="333.5" y1="183.4" x2="335.5" y2="183.4" stroke="#5a5a5a" stroke-width="0.8"/>
<text x="332.3" y="184.8" font-size="4.4" font-weight="bold" text-anchor="end" fill="#000" stroke="#000" stroke-width="0.18">100</text>
<line x1="333.5" y1="211.5" x2="335.5" y2="211.5" stroke="#5a5a5a" stroke-width="0.8"/>
<text x="332.3" y="212.9" font-size="4.4" font-weight="bold" text-anchor="end" fill="#000" stroke="#000" stroke-width="0.18">0</text>
<line x1="344.8" y1="211.5" x2="344.8" y2="213.1" stroke="#5a5a5a" stroke-width="0.7"/>
<text x="344.8" y="219.0" font-size="4.4" font-weight="bold" text-anchor="middle" fill="#000" stroke="#000" stroke-width="0.15">0</text>
<line x1="354.5" y1="211.5" x2="354.5" y2="213.1" stroke="#5a5a5a" stroke-width="0.7"/>
<text x="354.4" y="219.0" font-size="4.4" font-weight="bold" text-anchor="middle" fill="#000" stroke="#000" stroke-width="0.15">10<tspan font-size="3.0" dy="-1.7">2</tspan></text>
<line x1="375.1" y1="211.5" x2="375.1" y2="213.1" stroke="#5a5a5a" stroke-width="0.7"/>
<text x="375.0" y="219.0" font-size="4.4" font-weight="bold" text-anchor="middle" fill="#000" stroke="#000" stroke-width="0.15">10<tspan font-size="3.0" dy="-1.7">3</tspan></text>
<line x1="395.4" y1="211.5" x2="395.4" y2="213.1" stroke="#5a5a5a" stroke-width="0.7"/>
<text x="395.3" y="219.0" font-size="4.4" font-weight="bold" text-anchor="middle" fill="#000" stroke="#000" stroke-width="0.15">10<tspan font-size="3.0" dy="-1.7">4</tspan></text>
<line x1="415.1" y1="211.5" x2="415.1" y2="213.1" stroke="#5a5a5a" stroke-width="0.7"/>
<text x="415.0" y="219.0" font-size="4.4" font-weight="bold" text-anchor="middle" fill="#000" stroke="#000" stroke-width="0.15">10<tspan font-size="3.0" dy="-1.7">5</tspan></text>
<path d="M360.7,211.5v1.1M364.3,211.5v1.1M366.9,211.5v1.1M368.9,211.5v1.1M370.5,211.5v1.1M371.9,211.5v1.1M373.1,211.5v1.1M374.2,211.5v1.1M381.2,211.5v1.1M384.8,211.5v1.1M387.3,211.5v1.1M389.3,211.5v1.1M390.9,211.5v1.1M392.3,211.5v1.1M393.4,211.5v1.1M394.5,211.5v1.1M401.3,211.5v1.1M404.8,211.5v1.1M407.3,211.5v1.1M409.2,211.5v1.1M410.7,211.5v1.1M412.0,211.5v1.1M413.2,211.5v1.1M414.2,211.5v1.1M347.2,211.5v1.1M342.4,211.5v1.1M349.7,211.5v1.1M339.9,211.5v1.1M352.1,211.5v1.1M337.5,211.5v1.1" stroke="#555" stroke-width="0.5" fill="none"/>
<path d="M335.5,204.5h-1.2M335.5,197.5h-1.2M335.5,190.4h-1.2M335.5,176.4h-1.2M335.5,169.4h-1.2M335.5,162.4h-1.2M335.5,148.3h-1.2M335.5,141.3h-1.2M335.5,134.3h-1.2" stroke="#555" stroke-width="0.5" fill="none"/>
<clipPath id="c23"><rect x="335.5" y="126.3" width="88.3" height="86.2"/></clipPath>
<g clip-path="url(#c23)" fill="none" stroke-linejoin="round" stroke-linecap="round">
<path d="M364.9,211.7 L367.7,209.8 L370.0,207.1 L372.3,203.4 L374.1,199.7 L375.9,195.1 L377.4,190.5 L378.9,187.7 L380.4,188.6 L381.8,191.4 L383.3,189.6 L384.8,187.7 L386.3,190.5 L387.7,193.2 L389.2,190.5 L390.7,187.7 L391.8,189.6 L392.9,186.8 L394.0,188.6 L395.1,185.0 L396.2,186.8 L397.3,184.0 L398.4,182.2 L399.3,174.8 L400.1,165.6 L400.8,161.6 L401.5,162.9 L402.3,171.1 L403.0,179.4 L403.7,181.3 L404.5,171.1 L405.2,158.3 L406.0,151.3 L406.7,153.7 L407.4,163.8 L408.2,177.6 L409.1,191.4 L410.2,201.5 L411.5,207.6 L413.1,210.4" stroke="#000" stroke-width="1.05" stroke-dasharray="1.3 0.9" stroke-linecap="butt"/>
<path d="M335.8,211.7 L352.0,211.7 L362.1,211.3 L364.9,209.5 L367.1,205.8 L368.9,200.6 L370.8,194.2 L372.3,188.6 L373.7,183.1 L375.0,180.0 L376.3,179.4 L377.4,178.9 L378.5,177.6 L379.6,174.8 L380.5,171.5 L381.5,172.1 L382.4,175.8 L383.3,174.8 L384.2,176.7 L385.1,178.5 L386.1,181.3 L387.0,184.0 L387.9,182.2 L388.8,175.8 L389.8,172.6 L390.7,177.6 L391.6,181.3 L392.5,179.4 L393.4,174.8 L394.4,173.0 L395.3,173.9 L396.2,172.1 L397.1,174.8 L398.0,179.4 L398.8,174.8 L399.5,165.6 L400.3,161.0 L401.0,160.5 L401.7,165.6 L402.5,174.8 L403.2,181.3 L403.9,177.6 L404.7,167.5 L405.4,156.4 L406.1,152.7 L406.9,155.5 L407.6,165.6 L408.4,178.5 L409.3,191.4 L410.4,201.5 L411.7,207.6 L413.3,210.4 L416.1,211.7 L422.9,211.7" stroke="#111" stroke-width="1.05"/>
</g>
</g>
<path d="M39.9,406.2 V269.3 H245.7 V406.2" fill="none" stroke="#4a4a4a" stroke-width="1.1"/>
<line x1="39.9" y1="388.9" x2="245.7" y2="388.9" stroke="#4a4a4a" stroke-width="1.1"/>
<line x1="91" y1="388.9" x2="91" y2="390.9" stroke="#2a2a2a" stroke-width="0.9"/>
<line x1="142.5" y1="388.9" x2="142.5" y2="390.9" stroke="#2a2a2a" stroke-width="0.9"/>
<line x1="194.5" y1="388.9" x2="194.5" y2="390.9" stroke="#2a2a2a" stroke-width="0.9"/>
<line x1="37.9" y1="270" x2="39.9" y2="270" stroke="#2a2a2a" stroke-width="0.9"/>
<text x="38.3" y="274.2" font-size="11.3" font-weight="bold" text-anchor="end" fill="#111">8</text>
<line x1="37.9" y1="287" x2="39.9" y2="287" stroke="#2a2a2a" stroke-width="0.9"/>
<text x="38.3" y="291.2" font-size="11.3" font-weight="bold" text-anchor="end" fill="#111">7</text>
<line x1="37.9" y1="304" x2="39.9" y2="304" stroke="#2a2a2a" stroke-width="0.9"/>
<text x="38.3" y="308.2" font-size="11.3" font-weight="bold" text-anchor="end" fill="#111">6</text>
<line x1="37.9" y1="321" x2="39.9" y2="321" stroke="#2a2a2a" stroke-width="0.9"/>
<text x="38.3" y="325.2" font-size="11.3" font-weight="bold" text-anchor="end" fill="#111">5</text>
<line x1="37.9" y1="338" x2="39.9" y2="338" stroke="#2a2a2a" stroke-width="0.9"/>
<text x="38.3" y="342.2" font-size="11.3" font-weight="bold" text-anchor="end" fill="#111">4</text>
<line x1="37.9" y1="355" x2="39.9" y2="355" stroke="#2a2a2a" stroke-width="0.9"/>
<text x="38.3" y="359.2" font-size="11.3" font-weight="bold" text-anchor="end" fill="#111">3</text>
<line x1="37.9" y1="372" x2="39.9" y2="372" stroke="#2a2a2a" stroke-width="0.9"/>
<text x="38.3" y="376.2" font-size="11.3" font-weight="bold" text-anchor="end" fill="#111">2</text>
<line x1="37.9" y1="389" x2="39.9" y2="389" stroke="#2a2a2a" stroke-width="0.9"/>
<text x="38.3" y="393.2" font-size="11.3" font-weight="bold" text-anchor="end" fill="#111">1</text>
<line x1="37.9" y1="406" x2="39.9" y2="406" stroke="#2a2a2a" stroke-width="0.9"/>
<text x="38.3" y="410.2" font-size="11.3" font-weight="bold" text-anchor="end" fill="#111">-2</text>
<rect x="55.6" y="361.8" width="20.70" height="27.10" fill="#fff" stroke="#2a2a2a" stroke-width="0.95"/>
<path d="M65.8,355 V368.5 M64.7,355 h2.2 M64.7,368.5 h2.2" fill="none" stroke="#2a2a2a" stroke-width="0.9"/>
<rect x="107.0" y="387.6" width="20.60" height="1.30" fill="#fff" stroke="#2a2a2a" stroke-width="0.95"/>
<path d="M117.2,386.2 V389.0 M116.10000000000001,386.2 h2.2 M116.10000000000001,389.0 h2.2" fill="none" stroke="#2a2a2a" stroke-width="0.9"/>
<rect x="158.8" y="387.6" width="20.00" height="1.30" fill="#fff" stroke="#2a2a2a" stroke-width="0.95"/>
<path d="M168.8,385.6 V390.4 M167.70000000000002,385.6 h2.2 M167.70000000000002,390.4 h2.2" fill="none" stroke="#2a2a2a" stroke-width="0.9"/>
<rect x="209.3" y="336.1" width="21.40" height="52.80" fill="#fff" stroke="#2a2a2a" stroke-width="0.95"/>
<path d="M220.0,313.8 V358.0 M218.9,313.8 h2.2 M218.9,358.0 h2.2" fill="none" stroke="#2a2a2a" stroke-width="0.9"/>
<text x="109.0" y="267.7" font-size="11.3" font-weight="bold" fill="#111" textLength="63.2" lengthAdjust="spacingAndGlyphs">DL1 vs. Ctrl</text>
<text transform="translate(9.7,328.4) rotate(-90)" font-size="11.3" font-weight="bold" text-anchor="middle" fill="#111">Fold increase in</text>
<text transform="translate(22.9,326.79999999999995) rotate(-90)" font-size="11.3" font-weight="bold" text-anchor="middle" fill="#111">cell number</text>
<text x="58.1" y="404.2" font-size="10.2" font-weight="bold" fill="#111" textLength="16.0" lengthAdjust="spacingAndGlyphs">IgM</text>
<text x="67.3" y="413.0" font-size="9" font-weight="bold" text-anchor="middle" fill="#111">+</text>
<text x="51.6" y="421.7" font-size="10.2" font-weight="bold" fill="#111" textLength="29.0" lengthAdjust="spacingAndGlyphs">DMSO</text>
<text x="108.2" y="404.2" font-size="10.2" font-weight="bold" fill="#111" textLength="16.0" lengthAdjust="spacingAndGlyphs">IgM</text>
<text x="117.4" y="413.0" font-size="9" font-weight="bold" text-anchor="middle" fill="#111">+</text>
<text x="102.1" y="421.7" font-size="10.2" font-weight="bold" fill="#111" textLength="28.2" lengthAdjust="spacingAndGlyphs">U0126</text>
<text x="161.0" y="404.2" font-size="10.2" font-weight="bold" fill="#111" textLength="16.0" lengthAdjust="spacingAndGlyphs">IgM</text>
<text x="170.2" y="413.0" font-size="9" font-weight="bold" text-anchor="middle" fill="#111">+</text>
<text x="147.1" y="421.7" font-size="10.2" font-weight="bold" fill="#111" textLength="43.8" lengthAdjust="spacingAndGlyphs">LY294002</text>
<text x="212.4" y="404.2" font-size="10.2" font-weight="bold" fill="#111" textLength="16.0" lengthAdjust="spacingAndGlyphs">IgM</text>
<text x="221.6" y="413.0" font-size="9" font-weight="bold" text-anchor="middle" fill="#111">+</text>
<text x="198.9" y="421.7" font-size="10.2" font-weight="bold" fill="#111" textLength="43.0" lengthAdjust="spacingAndGlyphs">SB203580</text>
<path d="M65.6,351.8 V348.6 H116.4 V351.8 M90.8,348.6 V345.6" fill="none" stroke="#222" stroke-width="1.1"/>
<path d="M65.6,326.8 V323.8 H168.2 V326.8 M116.5,323.8 V320.8" fill="none" stroke="#222" stroke-width="1.1"/>
<text x="77.0" y="342.3" font-size="10.3" fill="#111" stroke="#111" stroke-width="0.3" textLength="26.8" lengthAdjust="spacingAndGlyphs"><tspan font-style="italic">P</tspan>&lt;.01</text>
<text x="103.5" y="317.3" font-size="10.3" fill="#111" stroke="#111" stroke-width="0.3" textLength="26.8" lengthAdjust="spacingAndGlyphs"><tspan font-style="italic">P</tspan>&lt;.01</text>
<path d="M314.3,406.3 V269.9 H516.6 V406.3" fill="none" stroke="#4a4a4a" stroke-width="1.1"/>
<line x1="314.3" y1="387.1" x2="516.6" y2="387.1" stroke="#4a4a4a" stroke-width="1.1"/>
<line x1="364.6" y1="387.1" x2="364.6" y2="389.1" stroke="#2a2a2a" stroke-width="0.9"/>
<line x1="415.0" y1="387.1" x2="415.0" y2="389.1" stroke="#2a2a2a" stroke-width="0.9"/>
<line x1="466.2" y1="387.1" x2="466.2" y2="389.1" stroke="#2a2a2a" stroke-width="0.9"/>
<line x1="312.3" y1="270.2" x2="314.3" y2="270.2" stroke="#2a2a2a" stroke-width="0.9"/>
<text x="312.0" y="274.4" font-size="11.3" font-weight="bold" text-anchor="end" fill="#111">4.0</text>
<line x1="312.3" y1="289.7" x2="314.3" y2="289.7" stroke="#2a2a2a" stroke-width="0.9"/>
<text x="312.0" y="293.9" font-size="11.3" font-weight="bold" text-anchor="end" fill="#111">3.5</text>
<line x1="312.3" y1="309.2" x2="314.3" y2="309.2" stroke="#2a2a2a" stroke-width="0.9"/>
<text x="312.0" y="313.4" font-size="11.3" font-weight="bold" text-anchor="end" fill="#111">3.0</text>
<line x1="312.3" y1="328.7" x2="314.3" y2="328.7" stroke="#2a2a2a" stroke-width="0.9"/>
<text x="312.0" y="332.9" font-size="11.3" font-weight="bold" text-anchor="end" fill="#111">2.5</text>
<line x1="312.3" y1="348.2" x2="314.3" y2="348.2" stroke="#2a2a2a" stroke-width="0.9"/>
<text x="312.0" y="352.4" font-size="11.3" font-weight="bold" text-anchor="end" fill="#111">2.0</text>
<line x1="312.3" y1="367.7" x2="314.3" y2="367.7" stroke="#2a2a2a" stroke-width="0.9"/>
<text x="312.0" y="371.9" font-size="11.3" font-weight="bold" text-anchor="end" fill="#111">1.5</text>
<line x1="312.3" y1="387.0" x2="314.3" y2="387.0" stroke="#2a2a2a" stroke-width="0.9"/>
<text x="312.0" y="391.2" font-size="11.3" font-weight="bold" text-anchor="end" fill="#111">1.0</text>
<line x1="312.3" y1="406.5" x2="314.3" y2="406.5" stroke="#2a2a2a" stroke-width="0.9"/>
<text x="312.0" y="410.7" font-size="11.3" font-weight="bold" text-anchor="end" fill="#111">0.5</text>
<rect x="329.1" y="355.4" width="20.80" height="31.70" fill="#fff" stroke="#2a2a2a" stroke-width="0.95"/>
<path d="M339.4,351.1 V360.6 M338.29999999999995,351.1 h2.2 M338.29999999999995,360.6 h2.2" fill="none" stroke="#2a2a2a" stroke-width="0.9"/>
<rect x="379.7" y="374.3" width="20.70" height="12.80" fill="#fff" stroke="#2a2a2a" stroke-width="0.95"/>
<path d="M390.2,370.8 V377.4 M389.09999999999997,370.8 h2.2 M389.09999999999997,377.4 h2.2" fill="none" stroke="#2a2a2a" stroke-width="0.9"/>
<rect x="430.5" y="356.2" width="20.80" height="30.90" fill="#fff" stroke="#2a2a2a" stroke-width="0.95"/>
<path d="M440.8,338.0 V375.0 M439.7,338.0 h2.2 M439.7,375.0 h2.2" fill="none" stroke="#2a2a2a" stroke-width="0.9"/>
<rect x="481.3" y="341.6" width="20.50" height="45.50" fill="#fff" stroke="#2a2a2a" stroke-width="0.95"/>
<path d="M491.3,311.8 V371.8 M490.2,311.8 h2.2 M490.2,371.8 h2.2" fill="none" stroke="#2a2a2a" stroke-width="0.9"/>
<text x="382.8" y="267.7" font-size="11.3" font-weight="bold" fill="#111" textLength="63.6" lengthAdjust="spacingAndGlyphs">DL1 vs. Ctrl</text>
<text transform="translate(275.4,328.6) rotate(-90)" font-size="11.3" font-weight="bold" text-anchor="middle" fill="#111">Fold increase in</text>
<text transform="translate(289.0,327.0) rotate(-90)" font-size="11.3" font-weight="bold" text-anchor="middle" fill="#111">cell number</text>
<text x="326.8" y="404.5" font-size="10.2" font-weight="bold" fill="#111" textLength="25.0" lengthAdjust="spacingAndGlyphs">CD40</text>
<text x="340.5" y="412.6" font-size="9" font-weight="bold" text-anchor="middle" fill="#111">+</text>
<text x="325.0" y="421.7" font-size="10.2" font-weight="bold" fill="#111" textLength="28.6" lengthAdjust="spacingAndGlyphs">DMSO</text>
<text x="377.5" y="404.5" font-size="10.2" font-weight="bold" fill="#111" textLength="25.0" lengthAdjust="spacingAndGlyphs">CD40</text>
<text x="391.2" y="412.6" font-size="9" font-weight="bold" text-anchor="middle" fill="#111">+</text>
<text x="375.9" y="421.7" font-size="10.2" font-weight="bold" fill="#111" textLength="28.2" lengthAdjust="spacingAndGlyphs">U0126</text>
<text x="428.5" y="404.5" font-size="10.2" font-weight="bold" fill="#111" textLength="25.0" lengthAdjust="spacingAndGlyphs">CD40</text>
<text x="442.2" y="412.6" font-size="9" font-weight="bold" text-anchor="middle" fill="#111">+</text>
<text x="419.1" y="421.7" font-size="10.2" font-weight="bold" fill="#111" textLength="43.8" lengthAdjust="spacingAndGlyphs">LY294002</text>
<text x="479.3" y="404.5" font-size="10.2" font-weight="bold" fill="#111" textLength="25.0" lengthAdjust="spacingAndGlyphs">CD40</text>
<text x="493.0" y="412.6" font-size="9" font-weight="bold" text-anchor="middle" fill="#111">+</text>
<text x="469.6" y="421.7" font-size="10.2" font-weight="bold" fill="#111" textLength="44.4" lengthAdjust="spacingAndGlyphs">SB203580</text>
<path d="M339.3,348 V344.9 H390.2 V348 M364.6,344.9 V342.2" fill="none" stroke="#222" stroke-width="1.1"/>
<text x="352.3" y="338.7" font-size="10.3" fill="#111" stroke="#111" stroke-width="0.3" textLength="27.2" lengthAdjust="spacingAndGlyphs"><tspan font-style="italic">P</tspan>&lt;.01</text>
</g>
</svg>
</body></html>
